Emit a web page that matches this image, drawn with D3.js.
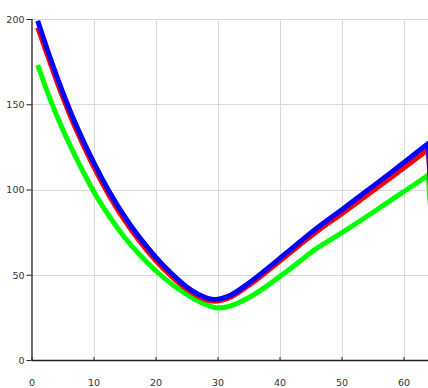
<!DOCTYPE html>
<html>
<head>
<meta charset="utf-8">
<script src="https://cdn.jsdelivr.net/npm/d3@7/dist/d3.min.js"></script>
<style>
  html, body { margin: 0; padding: 0; background: #fff; overflow: hidden; }
  svg { display: block; }
  .tick text { font-family: "DejaVu Sans", sans-serif; font-size: 9.5px; fill: #333; }
</style>
</head>
<body>
<svg id="chart" width="428" height="388"></svg>
<script>
// Data
const xBlue  = [1, 3, 5, 7, 10, 12.5, 15, 17.5, 20, 22.5, 25, 27.5, 29.5, 32, 35, 38, 41, 44, 47, 50, 54, 58, 61, 64, 66];
const blue   = [199, 177.4, 157.4, 139.4, 116, 99, 84.3, 71.5, 60.5, 51, 43, 37.5, 35.5, 37.8, 45, 53.5, 62.5, 71.5, 80, 88, 99, 110, 118.5, 127, 0];
const xRed   = [1, 3, 5, 7, 10, 12.5, 15, 17.5, 20, 22.5, 25, 27.5, 29.5, 32, 35, 38, 41, 44, 47, 50, 54, 58, 61, 64, 66];
const red    = [195, 174.4, 154.6, 136.8, 113.6, 96.7, 82, 69.4, 58.5, 49.3, 41.6, 36.3, 34.5, 36.7, 43.7, 52, 60.8, 69.6, 78, 85.7, 96.4, 107.1, 115.3, 123.5, 0];
const xGreen = [1, 3, 5, 7, 10, 12.5, 15, 17.5, 20, 22.5, 25, 27.5, 29.8, 32, 35, 38, 41, 44, 46, 50, 54, 58, 61, 64, 66];
const green  = [173, 153, 135.5, 120, 99, 84.5, 72, 61.5, 52.5, 44.8, 38.5, 33.5, 30.6, 31.6, 36.5, 43.5, 51.5, 60, 65.5, 74.5, 84, 93.8, 101, 108.5, 0];
const xTicks = [0, 10, 20, 30, 40, 50, 60];
const yTicks = [0, 50, 100, 150, 200];

const svg = d3.select("#chart");
const x = d3.scaleLinear().domain([0, 64]).range([31.5, 31.5 + 64 * 6.2]);
const y = d3.scaleLinear().domain([0, 200]).range([360, 19]);

// grid
const grid = svg.append("g");
grid.selectAll("line.vg").data(xTicks.filter(d => d > 0)).enter().append("line")
  .attr("x1", d => Math.round(x(d)) + 0.5).attr("x2", d => Math.round(x(d)) + 0.5)
  .attr("y1", y(200)).attr("y2", y(0))
  .attr("stroke", "#d9d9d9").attr("stroke-width", 1);
grid.selectAll("line.hg").data(yTicks.filter(d => d > 0)).enter().append("line")
  .attr("x1", x(0)).attr("x2", 428)
  .attr("y1", d => Math.round(y(d)) + 0.5).attr("y2", d => Math.round(y(d)) + 0.5)
  .attr("stroke", "#d9d9d9").attr("stroke-width", 1);

// axes
const xAxis = d3.axisBottom(x).tickValues(xTicks).tickSizeInner(-3).tickSizeOuter(0).tickPadding(19);
const yAxis = d3.axisLeft(y).tickValues(yTicks).tickSizeInner(5).tickSizeOuter(0).tickPadding(2);

const gx = svg.append("g").attr("transform", `translate(0,${y(0)})`).call(xAxis);
gx.select(".domain").remove();
gx.append("line").attr("x1", x(0)).attr("x2", 428).attr("y1", 0.5).attr("y2", 0.5)
  .attr("stroke", "#222").attr("stroke-width", 1.3);
gx.selectAll(".tick line").attr("stroke", "#222");

const gy = svg.append("g").attr("transform", `translate(${x(0)},0)`).call(yAxis);
gy.select(".domain").remove();
gy.append("line").attr("x1", 0.5).attr("x2", 0.5).attr("y1", y(200)).attr("y2", y(0))
  .attr("stroke", "#222").attr("stroke-width", 1.3);
gy.selectAll(".tick line").attr("stroke", "#222");
gy.selectAll(".tick text").attr("dy", "0.36em");

// lines: smooth body, then a straight final drop
const series = [
  { xs: xGreen, ys: green, color: "#00ff00" },
  { xs: xRed, ys: red, color: "#ff0000" },
  { xs: xBlue, ys: blue, color: "#0000ff" }
];
const smooth = d3.line().x(d => x(d[0])).y(d => y(d[1])).curve(d3.curveCatmullRom.alpha(0.5));
series.forEach(s => {
  const pts = s.xs.map((v, i) => [v, s.ys[i]]);
  const body = pts.slice(0, -1);
  const last = pts[pts.length - 1];
  svg.append("path")
    .attr("d", smooth(body) + `L${x(last[0])},${y(last[1])}`)
    .attr("fill", "none")
    .attr("stroke", s.color)
    .attr("stroke-width", 5)
    .attr("stroke-linejoin", "round");
});
</script>
</body>
</html>
